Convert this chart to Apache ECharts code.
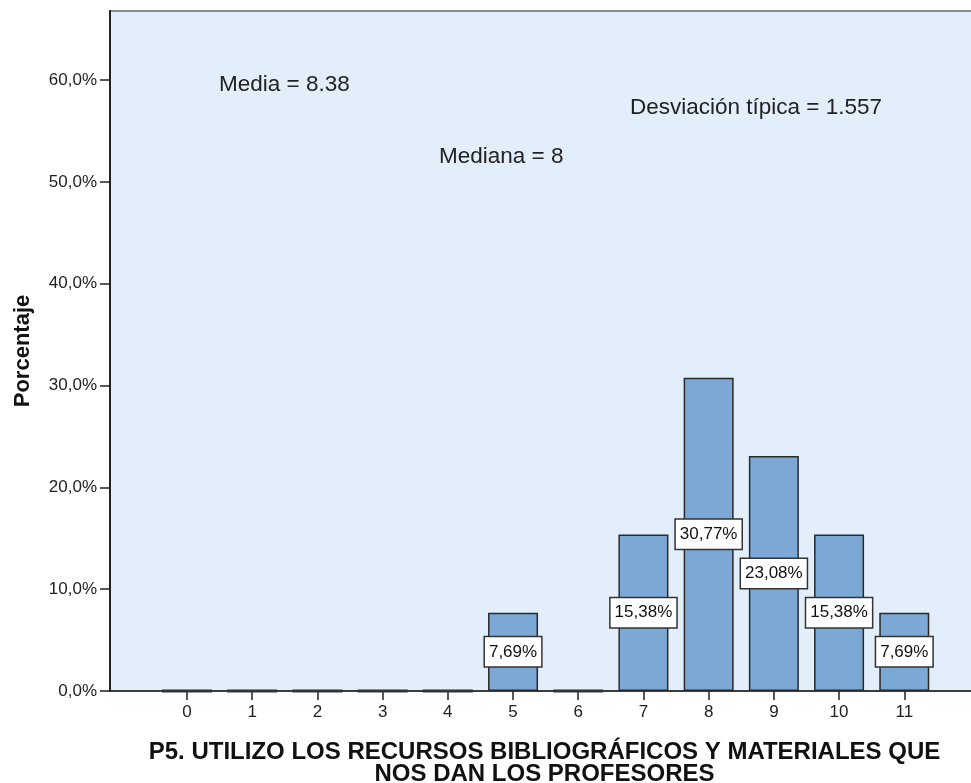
<!DOCTYPE html>
<html><head><meta charset="utf-8">
<script src="https://cdn.jsdelivr.net/npm/echarts@6/dist/echarts.min.js"></script>
<style>html,body{margin:0;padding:0;background:#fff}#c{width:971px;height:783px}</style>
</head><body><div id="c"></div>
<script>
const categories = [0,1,2,3,4,5,6,7,8,9,10,11];
const percentages = [0,0,0,0,0,7.69,0,15.38,30.77,23.08,15.38,7.69];
const yTicks = [0,10,20,30,40,50,60];
const statsTexts = ['Media = 8.38','Desviación típica = 1.557','Mediana = 8'];

const fmt = v => v.toFixed(2).replace('.', ',') + '%';
const chart = echarts.init(document.getElementById('c'), null, {renderer:'canvas'});
const FONT = 'Liberation Sans, Arial, sans-serif';
chart.setOption({
  animation:false,
  grid:{left:110, top:11, right:-8, bottom:92, containLabel:false, outerBoundsMode:'none',
    show:true, backgroundColor:'#E2EEFA', borderColor:'#8c8c8c', borderWidth:2},
  xAxis:{
    type:'value', min:-1.181, max:12.146,
    splitLine:{show:false},
    axisLine:{show:true, onZero:false, lineStyle:{color:'#222', width:1.5}},
    axisTick:{show:true, customValues:categories, length:9, lineStyle:{color:'#222', width:1.5}},
    axisLabel:{show:true, customValues:categories, color:'#222', fontFamily:FONT, fontSize:17, margin:13},
    name:'P5. UTILIZO LOS RECURSOS BIBLIOGRÁFICOS Y MATERIALES QUE\nNOS DAN LOS PROFESORES',
    nameLocation:'middle', nameGap:50,
    nameTextStyle:{color:'#111', fontFamily:FONT, fontSize:24, fontWeight:'bold', lineHeight:22}
  },
  yAxis:{
    type:'value', min:0, max:66.78, interval:10,
    splitLine:{show:false},
    axisLine:{show:true, onZero:false, lineStyle:{color:'#222', width:2}},
    axisTick:{show:true, length:10, customValues:yTicks, lineStyle:{color:'#222', width:1.5}},
    axisLabel:{customValues:yTicks, color:'#222', fontFamily:FONT, fontSize:17, margin:13,
      formatter:v=>v.toFixed(1).replace('.', ',') + '%'},
    name:'Porcentaje', nameLocation:'middle', nameGap:76, nameRotate:90,
    nameTextStyle:{color:'#111', fontFamily:FONT, fontSize:22, fontWeight:'bold'}
  },
  series:[{
    type:'bar', barWidth:50,
    data:categories.map((c,i)=>({
      value:[c, percentages[i]],
      label:{show:percentages[i] > 0},
      itemStyle:percentages[i] > 0 ? {} : {borderWidth:3, borderColor:'#333'}
    })),
    itemStyle:{color:'#7BA8D5', borderColor:'#2a2a2a', borderWidth:1.5},
    label:{position:'inside', color:'#111', fontFamily:FONT, fontSize:17, lineHeight:19,
      backgroundColor:'#fff', borderColor:'#333', borderWidth:1.5, padding:[5,4,5,4],
      formatter:p=>fmt(p.value[1])}
  }],
  graphic:[
    {type:'text', left:219, top:73, style:{text:statsTexts[0], font:'22.5px '+FONT, fill:'#222'}},
    {type:'text', left:630, top:96, style:{text:statsTexts[1], font:'22.5px '+FONT, fill:'#222'}},
    {type:'text', left:439, top:145, style:{text:statsTexts[2], font:'22.5px '+FONT, fill:'#222'}}
  ]
});
</script></body></html>
